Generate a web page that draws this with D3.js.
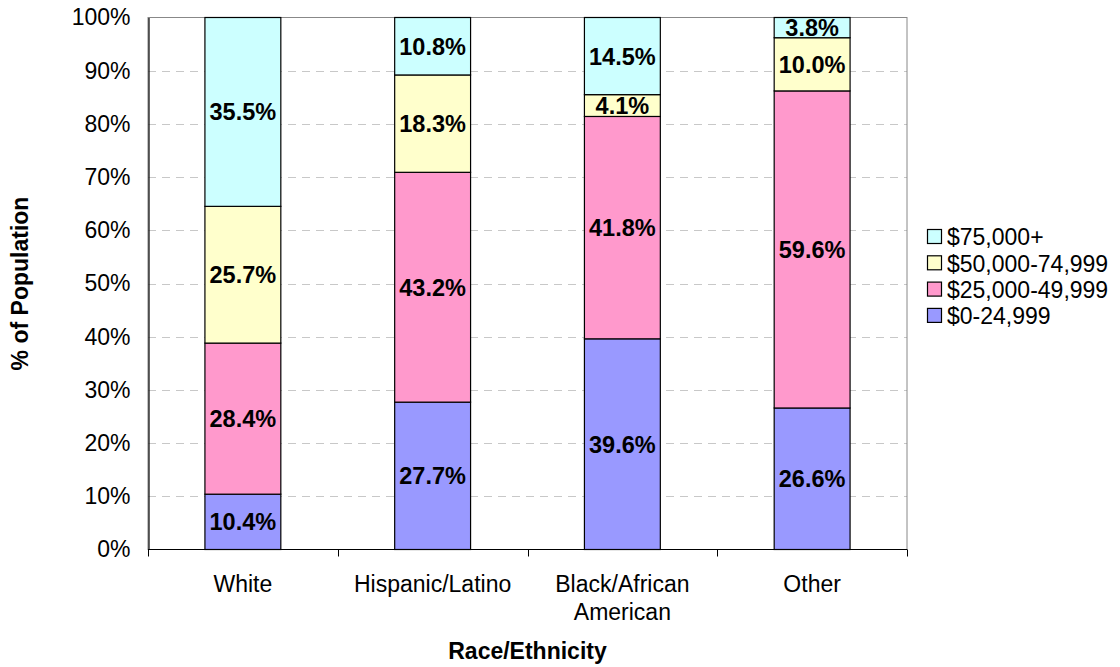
<!DOCTYPE html>
<html>
<head>
<meta charset="utf-8">
<script src="https://cdn.jsdelivr.net/npm/d3@7"></script>
<style>
  body { margin: 0; background: #fff; }
  text { font-family: "Liberation Sans", Arial, sans-serif; }
</style>
</head>
<body>
<svg id="svg"></svg>
<script>
// data
const categories = ["White", "Hispanic/Latino", "Black/African American", "Other"];
const seriesNames = ["$0-24,999", "$25,000-49,999", "$50,000-74,999", "$75,000+"];
const low = [10.4, 27.7, 39.6, 26.6];
const midLow = [28.4, 43.2, 41.8, 59.6];
const midHigh = [25.7, 18.3, 4.1, 10.0];
const high = [35.5, 10.8, 14.5, 3.8];
const yTicks = [0, 10, 20, 30, 40, 50, 60, 70, 80, 90, 100];
const colors = ["#9999FF", "#FF99CC", "#FFFFCC", "#CCFFFF"];

function sketch() {
    let width = 1120, height = 667;
    let svg = d3.select("#svg").attr("width", width).attr("height", height);

    let left = 148, right = 907, top = 17.5, bottom = 549.5;
    let fs = "23px";

    let x = d3.scaleBand().domain(categories).range([left, right]).paddingInner(0.6).paddingOuter(0.3);
    let xb = d3.scaleBand().domain(categories).range([left, right]);
    let y = d3.scaleLinear().domain([0, 100]).range([bottom, top]);

    // rows for stacking
    let rows = categories.map((c, i) => ({
        cat: c,
        [seriesNames[0]]: low[i],
        [seriesNames[1]]: midLow[i],
        [seriesNames[2]]: midHigh[i],
        [seriesNames[3]]: high[i]
    }));
    let stack = d3.stack().keys(seriesNames)(rows);

    // gridlines
    svg.append("g").selectAll("line")
        .data(yTicks.filter(t => t > 0 && t < 100))
        .enter().append("line")
        .attr("x1", left).attr("x2", right)
        .attr("y1", d => Math.round(y(d)) + 0.5).attr("y2", d => Math.round(y(d)) + 0.5)
        .attr("stroke", "#c8c8c8")
        .attr("stroke-dasharray", "8,6")
        .attr("stroke-width", 1);

    // plot frame
    svg.append("rect")
        .attr("x", left).attr("y", top)
        .attr("width", right - left).attr("height", bottom - top)
        .attr("fill", "none").attr("stroke", "#888").attr("stroke-width", 1);

    // bars
    let layers = svg.append("g").selectAll("g.layer")
        .data(stack).enter().append("g")
        .attr("class", "layer")
        .attr("fill", (d, i) => colors[i]);

    layers.selectAll("rect")
        .data(d => d).enter().append("rect")
        .attr("x", d => x(d.data.cat))
        .attr("width", x.bandwidth())
        .attr("y", d => y(d[1]))
        .attr("height", d => y(d[0]) - y(d[1]))
        .attr("stroke", "#000")
        .attr("stroke-width", 1.2);

    layers.selectAll("text")
        .data(d => d).enter().append("text")
        .attr("x", d => x(d.data.cat) + x.bandwidth() / 2)
        .attr("y", d => (y(d[0]) + y(d[1])) / 2)
        .attr("dy", "0.36em")
        .attr("text-anchor", "middle")
        .attr("font-weight", "bold")
        .attr("font-size", "23.5px")
        .attr("fill", "#000")
        .text(d => (d[1] - d[0]).toFixed(1) + "%");

    // y axis
    let yAxis = svg.append("g")
        .attr("transform", `translate(${left + 0.5},0)`)
        .call(d3.axisLeft(y).tickValues(yTicks).tickFormat(d => d + "%").tickSize(0).tickPadding(18));
    yAxis.select(".domain").attr("stroke", "#000").attr("stroke-width", 1.2);
    yAxis.selectAll("text").attr("font-size", fs).attr("font-family", "Liberation Sans, Arial, sans-serif").attr("fill", "#000");

    // x axis
    let xAxisG = svg.append("g").attr("transform", `translate(0,${bottom})`);
    xAxisG.append("line").attr("x1", left).attr("x2", right).attr("stroke", "#000").attr("stroke-width", 1.2);
    xAxisG.selectAll("line.tick")
        .data(categories.map(c => xb(c)).concat([right]))
        .enter().append("line")
        .attr("class", "tick")
        .attr("x1", d => Math.round(d) + 0.5).attr("x2", d => Math.round(d) + 0.5)
        .attr("y1", 0).attr("y2", 7)
        .attr("stroke", "#000");

    let catLabels = {"Black/African American": ["Black/African", "American"]};
    xAxisG.selectAll("text.cat")
        .data(categories).enter().append("text")
        .attr("class", "cat")
        .attr("x", d => xb(d) + xb.bandwidth() / 2)
        .attr("y", 34)
        .attr("text-anchor", "middle")
        .attr("font-size", fs)
        .each(function(d) {
            let lines = catLabels[d] || [d];
            d3.select(this).selectAll("tspan").data(lines).enter().append("tspan")
                .attr("x", xb(d) + xb.bandwidth() / 2)
                .attr("dy", (l, i) => i === 0 ? "0.35em" : 28)
                .text(l => l);
        });

    // axis titles
    svg.append("text")
        .attr("x", (left + right) / 2).attr("y", 659)
        .attr("text-anchor", "middle")
        .attr("font-weight", "bold").attr("font-size", fs)
        .text("Race/Ethnicity");

    svg.append("text")
        .attr("transform", `translate(28,${(top + bottom) / 2}) rotate(-90)`)
        .attr("text-anchor", "middle")
        .attr("font-weight", "bold").attr("font-size", fs)
        .text("% of Population");

    // legend (top to bottom: reversed)
    let legend = svg.append("g").attr("transform", "translate(927,237)");
    let items = legend.selectAll("g").data(seriesNames.slice().reverse()).enter().append("g")
        .attr("transform", (d, i) => `translate(0,${i * 26.3})`);
    items.append("rect")
        .attr("x", 0.5).attr("y", -7.5).attr("width", 14).attr("height", 14)
        .attr("fill", d => colors[seriesNames.indexOf(d)])
        .attr("stroke", "#000").attr("stroke-width", 1.2);
    items.append("text")
        .attr("x", 20).attr("y", 0).attr("dy", "0.36em")
        .attr("font-size", fs)
        .text(d => d);
}
sketch();
</script>
</body>
</html>
